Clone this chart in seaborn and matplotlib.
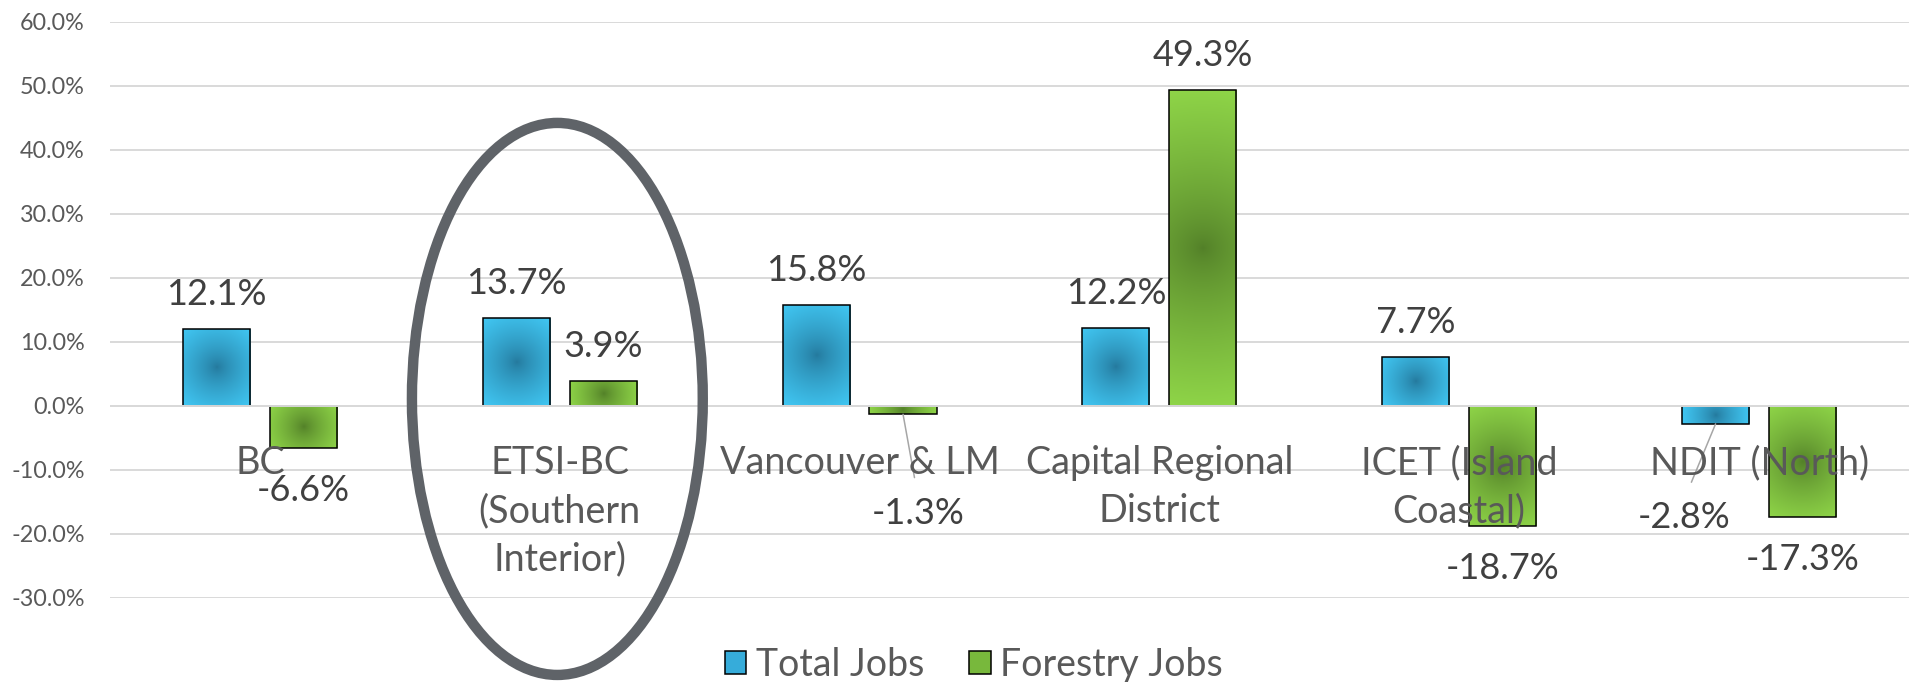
import numpy as np
import pandas as pd
import matplotlib
matplotlib.use("Agg")
import matplotlib.pyplot as plt
import seaborn as sns
from matplotlib.patches import Ellipse, Patch
from matplotlib.ticker import FuncFormatter, MultipleLocator
from matplotlib.colors import to_rgb

# chart data (percent change)
regions = ["BC", "ETSI-BC\n(Southern\nInterior)", "Vancouver & LM",
           "Capital Regional\nDistrict", "ICET (Island\nCoastal)", "NDIT (North)"]
series = ["Total Jobs", "Forestry Jobs"]
total_jobs = [12.1, 13.7, 15.8, 12.2, 7.7, -2.8]
forestry_jobs = [-6.6, 3.9, -1.3, 49.3, -18.7, -17.3]

# colours: bright edge / dark centre of the radial fill
blue_edge, blue_mid = "#41c8f4", "#24789c"
green_edge, green_mid = "#8fd548", "#527f28"
grid_col = "#d9d9d9"
text_col = "#595959"
label_col = "#404040"

sns.set_theme(style="white")
plt.rcParams["font.family"] = ["Lato", "DejaVu Sans"]

df = pd.DataFrame({
    "region": regions * 2,
    "series": [series[0]] * len(regions) + [series[1]] * len(regions),
    "value": total_jobs + forestry_jobs,
})

fig = plt.figure(figsize=(19.13, 6.82), dpi=100)
ax = fig.add_axes([0.0575, 0.1232, 0.9404, 0.8446])

sns.barplot(data=df, x="region", y="value", hue="series",
            palette=[blue_edge, green_edge], width=0.58, gap=0.228,
            edgecolor="black", linewidth=1.1, saturation=1,
            legend=False, ax=ax, zorder=3)

ax.set_xlim(-0.5, 5.5)
ax.set_ylim(-30, 60)
ax.yaxis.set_major_locator(MultipleLocator(10))
ax.yaxis.set_major_formatter(FuncFormatter(lambda v, p: f"{round(v, 1) + 0.0:.1f}%"))
ax.grid(axis="y", color=grid_col, lw=1.4)
ax.grid(axis="x", visible=False)
ax.set_axisbelow(True)
ax.tick_params(axis="y", length=0, pad=18, labelsize=16.8, labelcolor=text_col)
ax.set_xticks([])
ax.set_xlabel("")
ax.set_ylabel("")
for s in ax.spines.values():
    s.set_visible(False)
ax.axhline(0, color=grid_col, lw=1.4, zorder=4)


def shade(patch, edge, mid):
    # radial gradient, dark in the middle, clipped to the bar
    x0, y0 = patch.get_x(), patch.get_y()
    w, h = patch.get_width(), patch.get_height()
    (px0, py0), (px1, py1) = ax.transData.transform([(x0, y0), (x0 + w, y0 + h)])
    wp, hp = abs(px1 - px0), abs(py1 - py0)
    nx, ny = max(int(wp), 2), max(int(hp), 2)
    u = ((np.arange(nx) + 0.5) / nx - 0.5) * wp
    v = ((np.arange(ny) + 0.5) / ny - 0.5) * hp
    U, V = np.meshgrid(u, v)
    t = np.clip(np.hypot(U, V) / np.hypot(wp / 2, hp / 2), 0, 1) ** 0.75
    t = t[..., None]
    img = np.array(to_rgb(mid)) * (1 - t) + np.array(to_rgb(edge)) * t
    im = ax.imshow(img, extent=[x0, x0 + w, min(y0, y0 + h), max(y0, y0 + h)],
                   origin="lower", aspect="auto", zorder=2.5, interpolation="bilinear")
    im.set_clip_path(patch)
    patch.set_facecolor("none")


fills = [(blue_edge, blue_mid), (green_edge, green_mid)]
for cont, (ec, mc) in zip(ax.containers, fills):
    for bar in cont:
        shade(bar, ec, mc)

# data labels; two were dragged away with leader lines
nudge = {(1, 2): (10.8, -41.0), (0, 5): (-23.0, -36.7)}
for s_i, (cont, vals) in enumerate(zip(ax.containers, [total_jobs, forestry_jobs])):
    for i, (bar, v) in enumerate(zip(cont, vals)):
        cx = bar.get_x() + bar.get_width() / 2
        dy = 17.3 if v >= 0 else -38.2
        dx = 0
        arrow = None
        if (s_i, i) in nudge:
            ndx, ndy = nudge[(s_i, i)]
            dx, dy = ndx, dy + ndy
            arrow = dict(arrowstyle="-", color="#a6a6a6", lw=1.1,
                         shrinkA=12, shrinkB=0, relpos=(0.5, 1.0))
        ax.annotate(f"{v:.1f}%", xy=(cx, v), xytext=(dx, dy), textcoords="offset points",
                    ha="center", va="baseline", fontsize=26, color=label_col,
                    arrowprops=arrow, zorder=6)

# category labels sit just under the zero line, over the bars
for i, name in enumerate(regions):
    ax.annotate(name, xy=(i, 0), xytext=(0, -28), textcoords="offset points",
                ha="center", va="top", fontsize=27.2, color=text_col,
                linespacing=1.42, zorder=6)

# highlight ring around ETSI-BC
ax.add_patch(Ellipse((0.992, 1.1), 0.97, 86.25, fill=False, edgecolor="#5f6368",
                     lw=7.5, clip_on=False, zorder=7))

ax.set_xlim(-0.5, 5.5)
ax.set_ylim(-30, 60)

handles = [Patch(facecolor="#36acda", edgecolor="black", lw=1.1, label=series[0]),
           Patch(facecolor="#78b83c", edgecolor="black", lw=1.1, label=series[1])]
fig.legend(handles=handles, loc="center", bbox_to_anchor=(0.509, 0.025), ncol=2,
           frameon=False, fontsize=27, handlelength=0.58, handleheight=0.58,
           handletextpad=0.25, columnspacing=1.2, labelcolor=text_col, borderaxespad=0)

fig.savefig("out.png", dpi=100)
